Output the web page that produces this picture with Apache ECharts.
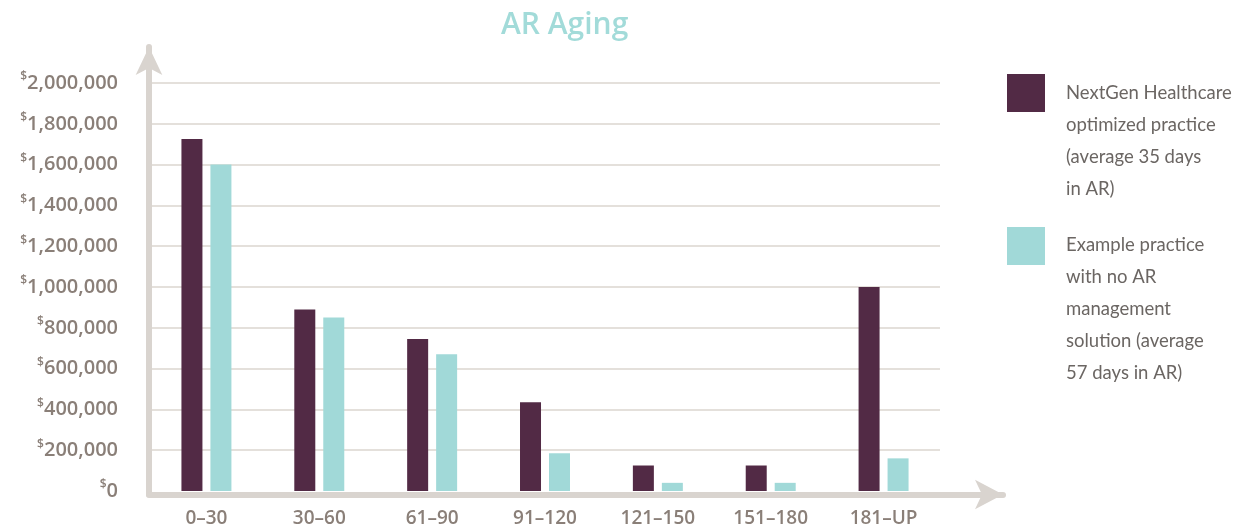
<!DOCTYPE html>
<html>
<head>
<meta charset="utf-8">
<script src="https://cdn.jsdelivr.net/npm/echarts@6/dist/echarts.min.js"></script>
<style>
html,body{margin:0;padding:0;background:#fff;}
#chart{width:1237px;height:530px;}
</style>
</head>
<body>
<div id="chart"></div>
<script>
var title = 'AR Aging';
var categories = ['0–30', '30–60', '61–90', '91–120', '121–150', '151–180', '181–UP'];
var seriesNames = [
  'NextGen Healthcare optimized practice (average 35 days in AR)',
  'Example practice with no AR management solution (average 57 days in AR)'
];
var legendLines = [
  ['NextGen Healthcare', 'optimized practice', '(average 35 days', 'in AR)'],
  ['Example practice', 'with no AR', 'management', 'solution (average', '57 days in AR)']
];
var nextgenValues = [1725000, 890000, 745000, 435000, 125000, 125000, 1000000];
var exampleValues = [1600000, 850000, 670000, 185000, 40000, 40000, 160000];
var yMin = 0, yMax = 2000000, yInterval = 200000;

var C_DARK = '#522a45', C_TEAL = '#a1d9d8', C_AXIS = '#d9d4cf', C_GRID = '#e4e0db', C_LABEL = '#8a7f78', C_LEG = '#6b6663';

var chart = echarts.init(document.getElementById('chart'));
chart.setOption({
  backgroundColor: '#fff',
  animation: false,
  title: {
    text: title, left: 496, top: 5,
    textStyle: {color: '#a2dbd9', fontFamily: 'Open Sans', fontWeight: 600, fontSize: 30}
  },
  grid: [
    {left: 150, right: 297, top: 83, bottom: 39},
    {left: 149, right: 234, top: 47, bottom: 35.5}
  ],
  xAxis: [
    {
      type: 'category', gridIndex: 0, data: categories,
      axisLine: {show: false}, axisTick: {show: false},
      axisLabel: {color: C_LABEL, fontFamily: 'Open Sans', fontWeight: 600, fontSize: 19, margin: 18}
    },
    {
      type: 'value', gridIndex: 1, min: 0, max: 1,
      axisLine: {show: true, onZero: false, symbol: ['none', 'arrow'], symbolSize: [22, 28],
        lineStyle: {color: C_AXIS, width: 6}},
      axisTick: {show: false}, axisLabel: {show: false}, splitLine: {show: false}
    }
  ],
  yAxis: [
    {
      type: 'value', gridIndex: 0, min: yMin, max: yMax, interval: yInterval,
      axisLine: {show: false}, axisTick: {show: false},
      splitLine: {show: true, showMinLine: false, lineStyle: {color: C_GRID, width: 2}},
      axisLabel: {
        margin: 32,
        formatter: function (v) { return '{s|$}{v|' + v.toLocaleString('en-US') + '}'; },
        rich: {
          s: {color: C_LABEL, fontFamily: 'Open Sans', fontSize: 12, fontWeight: 600, verticalAlign: 'top', lineHeight: 24},
          v: {color: C_LABEL, fontFamily: 'Open Sans', fontSize: 20, fontWeight: 600, lineHeight: 24}
        }
      }
    },
    {
      type: 'value', gridIndex: 1, min: 0, max: 1,
      axisLine: {show: true, onZero: false, symbol: ['none', 'arrow'], symbolSize: [20, 28],
        lineStyle: {color: C_AXIS, width: 6}},
      axisTick: {show: false}, axisLabel: {show: false}, splitLine: {show: false}
    }
  ],
  series: [
    {name: seriesNames[0], type: 'bar', xAxisIndex: 0, yAxisIndex: 0, data: nextgenValues,
      barWidth: 21, barGap: '38%', itemStyle: {color: C_DARK}, z: 3},
    {name: seriesNames[1], type: 'bar', xAxisIndex: 0, yAxisIndex: 0, data: exampleValues,
      barWidth: 21, itemStyle: {color: C_TEAL}, z: 3}
  ],
  graphic: [
    {type: 'rect', shape: {x: 1007, y: 74, width: 38, height: 38}, style: {fill: C_DARK}},
    {type: 'text', x: 1066, y: 77, style: {text: legendLines[0].join('\n'), fill: C_LEG,
      font: '400 18.5px Lato', lineHeight: 32}},
    {type: 'rect', shape: {x: 1007, y: 227, width: 38, height: 38}, style: {fill: C_TEAL}},
    {type: 'text', x: 1066, y: 229, style: {text: legendLines[1].join('\n'), fill: C_LEG,
      font: '400 18.5px Lato', lineHeight: 32}}
  ]
});
</script>
</body>
</html>
